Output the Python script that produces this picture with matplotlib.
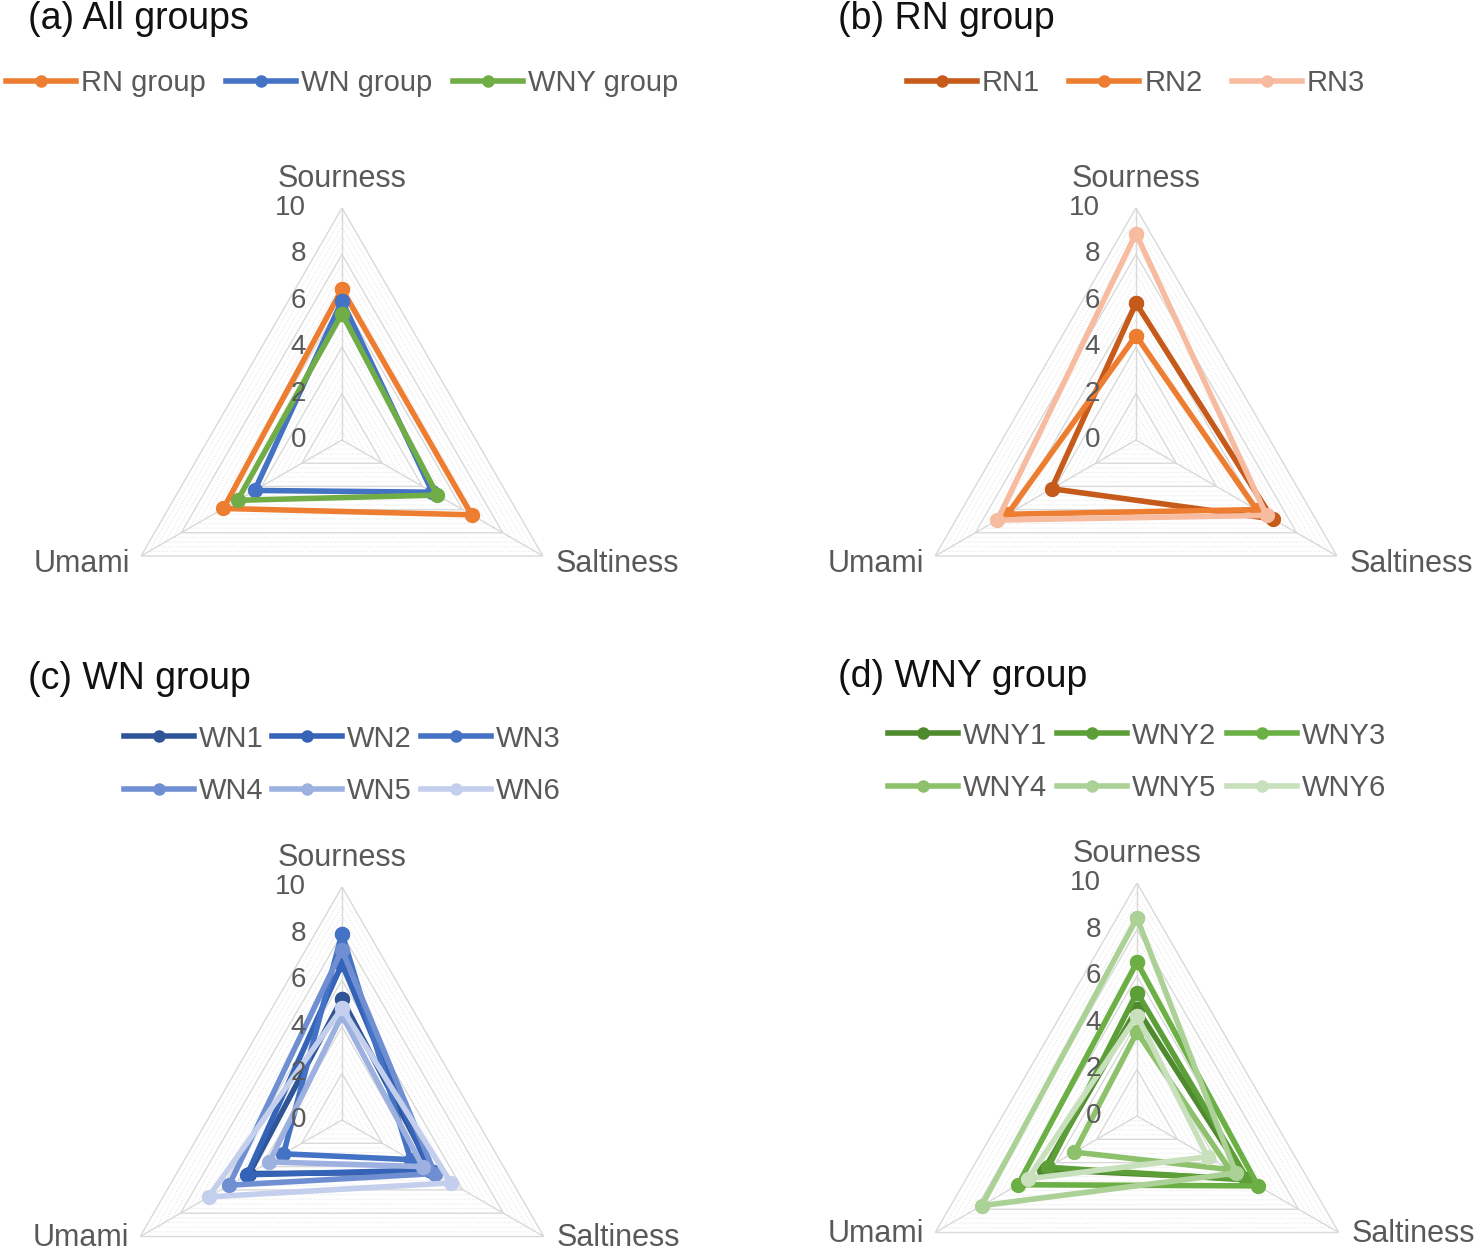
import numpy as np
import matplotlib
matplotlib.use('Agg')
import matplotlib.pyplot as plt
from matplotlib.lines import Line2D

plt.rcParams['font.family'] = ['Liberation Sans', 'DejaVu Sans']

# axes and scale
CATEGORIES = ['Sourness', 'Saltiness', 'Umami']
TICKS = [0, 2, 4, 6, 8, 10]

# (a) group means
ALL_NAMES = ['RN group', 'WN group', 'WNY group']
ALL_VALUES = [[6.5, 6.45, 5.9], [6.0, 4.5, 4.35], [5.45, 4.75, 5.2]]
ALL_COLORS = ['#ED7D31', '#4472C4', '#70AD47']

# (b) RN samples
RN_NAMES = ['RN1', 'RN2', 'RN3']
RN_VALUES = [[5.9, 6.8, 4.2], [4.5, 6.0, 6.4], [8.9, 6.5, 6.9]]
RN_COLORS = ['#C55A1A', '#ED7D31', '#F7BBA0']

# (c) WN samples
WN_NAMES = ['WN1', 'WN2', 'WN3', 'WN4', 'WN5', 'WN6']
WN_VALUES = [[5.2, 4.5, 4.6], [6.7, 4.3, 4.7], [8.0, 3.4, 2.9],
             [7.3, 4.6, 5.6], [4.5, 4.0, 3.6], [4.8, 5.4, 6.6]]
WN_COLORS = ['#2F5597', '#3563B8', '#4472C4', '#6F8FD2', '#9DB1E0', '#C3CFEC']

# (d) WNY samples
WNY_NAMES = ['WNY1', 'WNY2', 'WNY3', 'WNY4', 'WNY5', 'WNY6']
WNY_VALUES = [[4.6, 5.4, 4.6], [5.3, 5.5, 4.4], [6.6, 6.0, 5.9],
              [3.6, 4.6, 3.1], [8.5, 4.9, 7.7], [4.3, 3.5, 5.4]]
WNY_COLORS = ['#4F8A2E', '#5C9E37', '#6BAF45', '#8DC16B', '#ABD196', '#C8E0BB']

W, H = 1474, 1255
TXT = '#595959'
GRID = '#D9D9D9'

fig = plt.figure(figsize=(W / 100, H / 100), dpi=100)

angles = np.linspace(0, 2 * np.pi, len(CATEGORIES), endpoint=False)
closed = np.append(angles, angles[0])


def radar(cx, cy, R, names, values, colors, title, tx, ty, ly, colspace, low_dy, ncol_order=None):
    ax = fig.add_axes([(cx - R) / W, (H - cy - R) / H, 2 * R / W, 2 * R / H], projection='polar')
    ax.set_theta_offset(np.pi / 2)
    ax.set_theta_direction(-1)
    ax.set_ylim(0, 10)
    ax.set_xticks(angles)
    ax.set_xticklabels([])
    ax.set_yticks(TICKS)
    ax.set_yticklabels([])
    ax.yaxis.grid(False)
    ax.xaxis.grid(True, color=GRID, lw=1.0)
    ax.spines['polar'].set_visible(False)
    ax.patch.set_visible(False)
    ax.tick_params(length=0)

    # minor dotted rings, then major rings
    for r in np.arange(0.4, 10, 0.4):
        if abs(r / 2 - round(r / 2)) > 0.01:
            ax.plot(closed, [r] * len(closed), color='#E6E6E6', lw=0.8, ls=(0, (1, 1.5)), zorder=1)
    for r in TICKS[1:]:
        ax.plot(closed, [r] * len(closed), color=GRID, lw=1.0, zorder=1)

    handles = []
    for name, vals, c in zip(names, values, colors):
        v = vals + vals[:1]
        ax.plot(closed, v, color=c, lw=4.0, marker='o', ms=10, zorder=3, solid_joinstyle='miter')
        handles.append(Line2D([], [], color=c, lw=4.0, marker='o', ms=8))

    for t in TICKS:
        ax.annotate(str(t), xy=(0, t), xytext=(-36, 0), textcoords='offset pixels',
                    ha='right', va='center', fontsize=20, color=TXT)
    ax.annotate(CATEGORIES[0], xy=(angles[0], 10), xytext=(0, 29), textcoords='offset pixels',
                ha='center', va='center', fontsize=22, color=TXT)
    ax.annotate(CATEGORIES[1], xy=(angles[1], 10), xytext=(13, low_dy), textcoords='offset pixels',
                ha='left', va='center', fontsize=22, color=TXT)
    ax.annotate(CATEGORIES[2], xy=(angles[2], 10), xytext=(-11, low_dy), textcoords='offset pixels',
                ha='right', va='center', fontsize=22, color=TXT)

    fig.text(tx / W, 1 - ty / H, title, fontsize=27, ha='left', va='center', color='#111111')

    labels = list(names)
    if ncol_order is not None:
        handles = [handles[i] for i in ncol_order]
        labels = [labels[i] for i in ncol_order]
    fig.legend(handles, labels, loc='center', bbox_to_anchor=(cx / W, 1 - ly / H), ncol=3,
               frameon=False, fontsize=21, handlelength=2.4, handletextpad=0.17,
               columnspacing=colspace, labelspacing=0.85, labelcolor=TXT, borderpad=0)
    return ax


ORDER6 = [0, 3, 1, 4, 2, 5]
radar(342, 440, 232, ALL_NAMES, ALL_VALUES, ALL_COLORS, '(a) All groups', 28, 19, 83, 0.7, -8)
radar(1136, 440, 232, RN_NAMES, RN_VALUES, RN_COLORS, '(b) RN group', 838, 19, 83, 1.0, -8)
radar(342, 1120, 233, WN_NAMES, WN_VALUES, WN_COLORS, '(c) WN group', 28, 679, 765, 0.3, -1, ORDER6)
radar(1137, 1116, 233, WNY_NAMES, WNY_VALUES, WNY_COLORS, '(d) WNY group', 838, 677, 762, 0.35, -2, ORDER6)

fig.savefig('out.png', dpi=100, facecolor='white')
